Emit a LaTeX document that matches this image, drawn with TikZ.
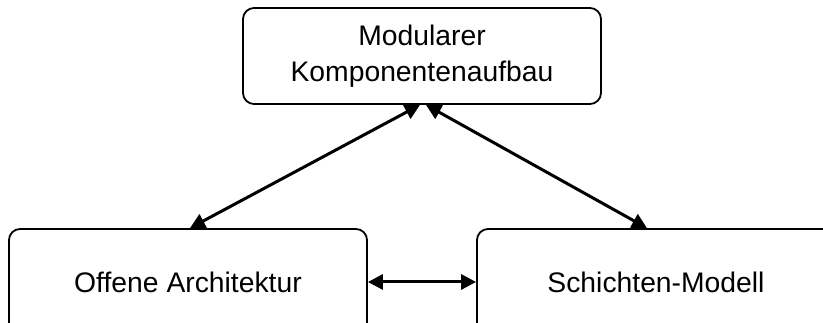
\documentclass[tikz,border=0pt]{standalone}
\usepackage{fontspec}
\setmainfont{Liberation Sans}
\usetikzlibrary{arrows.meta}

\begin{document}
\begin{tikzpicture}[x=1pt,y=1pt,
    modbox/.style={draw, line width=1.8pt, rounded corners=11pt, align=center,
        inner sep=0pt, minimum width=358pt, font=\fontsize{28.3}{36}\selectfont},
    link/.style={line width=3pt, {Triangle[length=15pt,width=15pt]}-{Triangle[length=15pt,width=15pt]}}]
    \useasboundingbox (0,0) rectangle (823,323);

    % Top module box
    \node[modbox, minimum height=96pt] (modular) at (422,267)
        {Modularer\\Komponentenaufbau};

    % Two boxes below, cut off by the page edge
    \node[modbox, minimum height=106pt] (offen) at (188,41)
        {Offene Architektur};
    \node[modbox, minimum height=106pt] (schicht) at (656,41)
        {Schichten-Modell};

    % Connectors
    \draw[link] ([xshift=-2pt]modular.south) -- ([xshift=2pt]offen.north);
    \draw[link] ([xshift=4pt]modular.south) -- ([xshift=-9pt]schicht.north);
    \draw[link] (offen.east) -- (schicht.west);
\end{tikzpicture}
\end{document}
